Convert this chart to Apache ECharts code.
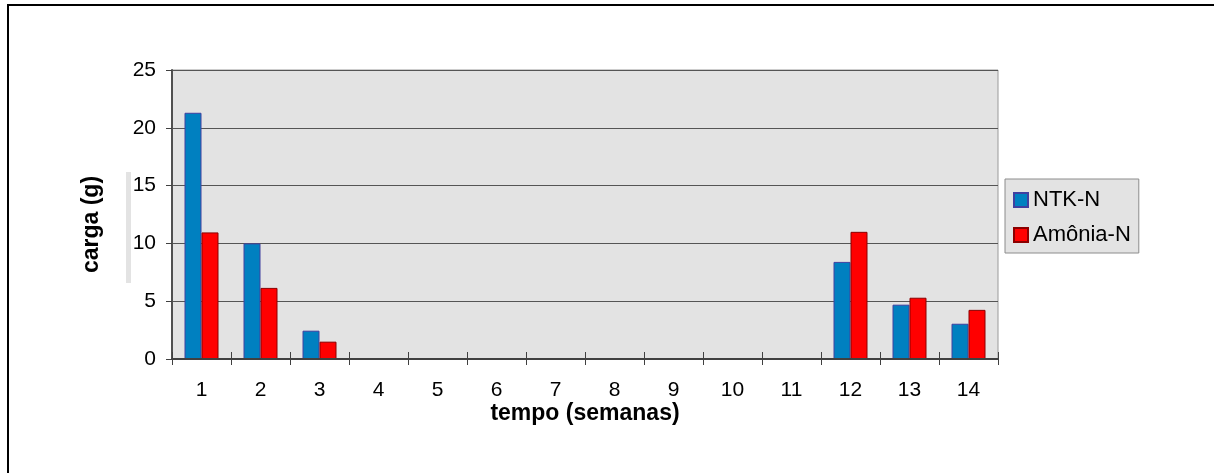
<!DOCTYPE html>
<html>
<head>
<meta charset="utf-8">
<script src="https://cdn.jsdelivr.net/npm/echarts@6/dist/echarts.min.js"></script>
<style>
  html, body { margin: 0; padding: 0; background: #ffffff; }
  #chart { width: 1214px; height: 473px; }
</style>
</head>
<body>
<div id="chart"></div>
<script>
// Weekly nitrogen load (g)
var weeks = ['1', '2', '3', '4', '5', '6', '7', '8', '9', '10', '11', '12', '13', '14'];
var ntkN = [21.3, 10.0, 2.45, null, null, null, null, null, null, null, null, 8.4, 4.7, 3.05];
var amoniaN = [10.95, 6.15, 1.5, null, null, null, null, null, null, null, null, 11.0, 5.3, 4.25];
var yTicks = [0, 5, 10, 15, 20, 25];

var FONT = '"Liberation Sans", Arial, sans-serif';

var chart = echarts.init(document.getElementById('chart'), null, { renderer: 'canvas' });

chart.setOption({
  animation: false,
  backgroundColor: '#ffffff',
  textStyle: { fontFamily: FONT },
  grid: {
    left: 172, right: 216, top: 70, bottom: 114,
    show: true,
    backgroundColor: '#e3e3e3',
    borderColor: '#9a9a9a',
    borderWidth: 1
  },
  legend: {
    orient: 'vertical',
    left: 1005,
    top: 179,
    padding: [10, 8, 7, 8],
    itemGap: 13,
    itemWidth: 14,
    itemHeight: 14,
    icon: 'rect',
    backgroundColor: '#e3e3e3',
    borderColor: '#8c8c8c',
    borderWidth: 1,
    borderRadius: 0,
    textStyle: { fontFamily: FONT, fontSize: 22, color: '#000000' },
    data: ['NTK-N', 'Amônia-N']
  },
  xAxis: [
    {
      type: 'category',
      data: weeks,
      position: 'bottom',
      axisLine: { show: true, lineStyle: { color: '#404040', width: 2 } },
      axisTick: { show: true, length: 6, lineStyle: { color: '#404040', width: 1 } },
      axisLabel: { fontFamily: FONT, fontSize: 21, color: '#000000', margin: 21 },
      name: 'tempo (semanas)',
      nameLocation: 'middle',
      nameGap: 38,
      nameMoveOverlap: false,
      nameTextStyle: {
        fontFamily: FONT, fontSize: 23, fontWeight: 'bold', color: '#000000',
        backgroundColor: '#ffffff', padding: [5, 6, 2, 6]
      },
      z: 3
    },
    {
      // upward half of the crossing tick marks
      type: 'category',
      data: weeks,
      position: 'bottom',
      axisLine: { show: false },
      axisTick: { show: true, inside: true, length: 7, lineStyle: { color: '#404040', width: 1 } },
      axisLabel: { show: false },
      splitLine: { show: false }
    }
  ],
  yAxis: {
    type: 'value',
    min: 0,
    max: 25,
    interval: 5,
    axisLine: { show: true, lineStyle: { color: '#505050', width: 2 } },
    axisTick: { show: true, length: 6, lineStyle: { color: '#404040', width: 1 } },
    axisLabel: {
      fontFamily: FONT, fontSize: 21, color: '#000000', margin: 16,
      formatter: function (v) { return yTicks.indexOf(v) >= 0 ? String(v) : ''; }
    },
    splitLine: { show: true, lineStyle: { color: '#555555', width: 1 } },
    name: 'carga (g)',
    nameLocation: 'middle',
    nameGap: 69,
    nameMoveOverlap: false,
    nameTextStyle: { fontFamily: FONT, fontSize: 23, fontWeight: 'bold', color: '#000000', padding: [0, 20, 0, 0] }
  },
  graphic: [
    // faint strip beside the axis title
    { type: 'rect', shape: { x: 126, y: 172, width: 5, height: 111 }, style: { fill: '#e3e3e3' }, silent: true },
    // frame edges
    { type: 'line', shape: { x1: 7, y1: 5, x2: 1214, y2: 5 }, style: { stroke: '#000000', lineWidth: 2 }, silent: true },
    { type: 'line', shape: { x1: 8, y1: 4, x2: 8, y2: 473 }, style: { stroke: '#000000', lineWidth: 2 }, silent: true }
  ],
  series: [
    {
      name: 'NTK-N',
      type: 'bar',
      data: ntkN,
      barWidth: 17,
      barGap: '0%',
      itemStyle: { color: '#0080c0', borderColor: '#4040a0', borderWidth: 1 }
    },
    {
      name: 'Amônia-N',
      type: 'bar',
      data: amoniaN,
      barWidth: 17,
      barGap: '0%',
      itemStyle: { color: '#ff0000', borderColor: '#8b0000', borderWidth: 1 }
    }
  ]
});
</script>
</body>
</html>
